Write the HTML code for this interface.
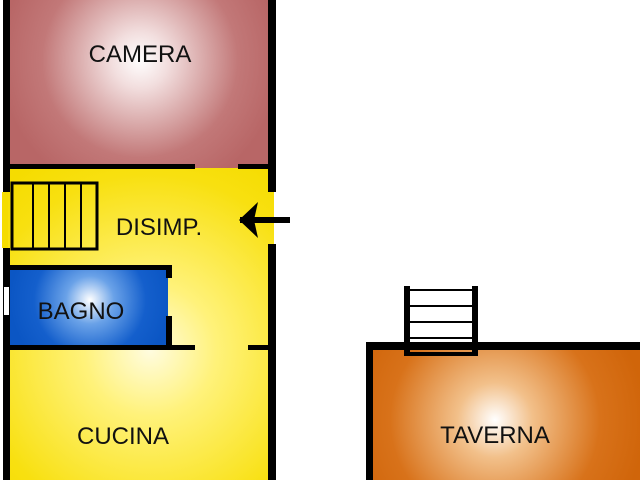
<!DOCTYPE html>
<html><head><style>html,body{margin:0;padding:0;background:#fff}svg{display:block}</style></head><body>
<svg width="640" height="480" xmlns="http://www.w3.org/2000/svg" font-family="Liberation Sans, sans-serif">
<defs>
<radialGradient id="cam" cx="140" cy="60" r="140" gradientUnits="userSpaceOnUse"><stop offset="0" stop-color="#fff"/><stop offset="0.2" stop-color="#f2dede"/><stop offset="0.7" stop-color="#c27878"/><stop offset="1" stop-color="#b86666"/></radialGradient>
<radialGradient id="yel" cx="150" cy="350" r="220" gradientUnits="userSpaceOnUse"><stop offset="0" stop-color="#fffce0"/><stop offset="0.3" stop-color="#fff27a"/><stop offset="0.8" stop-color="#f8e010"/><stop offset="1" stop-color="#f5dc00"/></radialGradient>
<radialGradient id="blu" cx="90" cy="300" r="80" gradientUnits="userSpaceOnUse"><stop offset="0" stop-color="#fff"/><stop offset="0.3" stop-color="#6aa2e8"/><stop offset="0.7" stop-color="#145fcc"/><stop offset="1" stop-color="#0b56c4"/></radialGradient>
<radialGradient id="tav" cx="495" cy="420" r="150" gradientUnits="userSpaceOnUse"><stop offset="0" stop-color="#fff"/><stop offset="0.25" stop-color="#f2c08a"/><stop offset="0.7" stop-color="#d8721a"/><stop offset="1" stop-color="#d0650a"/></radialGradient>
</defs>
<rect x="8" y="0" width="264" height="168" fill="url(#cam)"/>
<rect x="8" y="168" width="266" height="312" fill="url(#yel)"/>
<rect x="10" y="268" width="158" height="80" fill="url(#blu)"/>
<rect x="370" y="346" width="270" height="134" fill="url(#tav)"/>
<g fill="#000">
<rect x="3" y="0" width="7" height="192"/>
<rect x="3" y="248" width="7" height="232"/>
<rect x="268" y="0" width="8" height="192"/>
<rect x="268" y="244" width="8" height="236"/>
<rect x="8" y="164" width="187" height="5"/>
<rect x="238" y="164" width="34" height="5"/>
<rect x="10" y="265" width="162" height="5"/>
<rect x="166" y="265" width="6" height="13"/>
<rect x="166" y="316" width="6" height="32"/>
<rect x="8" y="345" width="187" height="5"/>
<rect x="248" y="345" width="24" height="5"/>
<rect x="366" y="342" width="274" height="8"/>
<rect x="366" y="342" width="7" height="138"/>
<rect x="404" y="286" width="6" height="70"/>
<rect x="472" y="286" width="6" height="70"/>
<rect x="404" y="352" width="74" height="4"/>
<rect x="240" y="217" width="50" height="6"/>
<polygon points="239,220 258,202 254,220 258,238"/>
</g>
<rect x="4" y="287" width="5" height="28" fill="#fff"/>
<rect x="2" y="192" width="6" height="56" fill="#f5dc00"/>
<g stroke="#000" stroke-width="2" fill="none">
<rect x="12" y="183" width="85" height="66" stroke-width="3"/>
<line x1="33" y1="183" x2="33" y2="249"/><line x1="49" y1="183" x2="49" y2="249"/><line x1="65" y1="183" x2="65" y2="249"/><line x1="81" y1="183" x2="81" y2="249"/>
<line x1="408" y1="290" x2="474" y2="290"/><line x1="408" y1="306" x2="474" y2="306"/><line x1="408" y1="322" x2="474" y2="322"/><line x1="408" y1="338" x2="474" y2="338"/>
</g>
<g font-size="24" fill="#111" text-anchor="middle">
<text x="140" y="62">CAMERA</text>
<text x="159" y="235">DISIMP.</text>
<text x="81" y="319">BAGNO</text>
<text x="123" y="444">CUCINA</text>
<text x="495" y="443">TAVERNA</text>
</g>
</svg>
</body></html>
